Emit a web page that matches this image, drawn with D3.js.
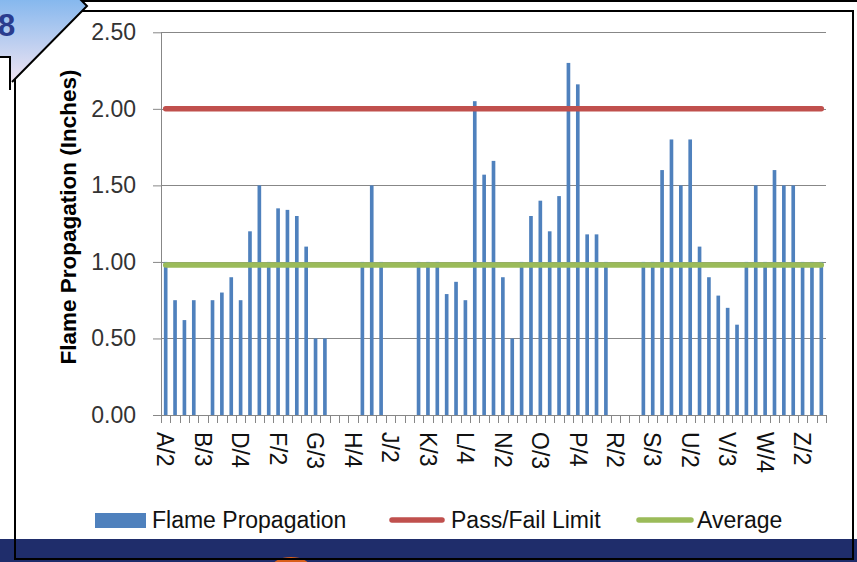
<!DOCTYPE html>
<html><head><meta charset="utf-8">
<script src="https://cdn.jsdelivr.net/npm/d3@7"></script>
<style>
html,body{margin:0;padding:0;background:#fff;}
svg{display:block;}
text{font-family:"Liberation Sans",Arial,sans-serif;}
</style></head><body>
<svg id="chart" width="857" height="562"></svg>
<script>
const categories = [
  "A/2","A/3","A/4","B/2","B/3","B/4","C/2","D/3","D/4","E/2","E/3","F/1",
  "F/2","F/3","F/4","G/2","G/3","G/4","H/2","H/3","H/4","I/2","I/3","J/1",
  "J/2","J/3","J/4","K/2","K/3","K/4","L/2","L/3","L/4","M/2","M/3","N/1",
  "N/2","N/3","N/4","O/2","O/3","O/4","P/2","P/3","P/4","Q/2","Q/3","R/1",
  "R/2","R/3","R/4","S/2","S/3","S/4","T/2","U/1","U/2","U/3","U/4","V/2",
  "V/3","V/4","W/2","W/3","W/4","X/2","Y/2","Z/1","Z/2","Z/3","Z/4"
];
const flameValues = [
  1.00,0.75,0.62,0.75,0,0.75,0.80,0.90,0.75,1.20,1.50,1.00,
  1.35,1.34,1.30,1.10,0.50,0.50,0,0,0,1.00,1.50,1.00,
  0,0,0,1.00,1.00,1.00,0.79,0.87,0.75,2.05,1.57,1.66,
  0.90,0.50,1.00,1.30,1.40,1.20,1.43,2.30,2.16,1.18,1.18,1.00,
  0,0,0,1.00,1.00,1.60,1.80,1.50,1.80,1.10,0.90,0.78,
  0.70,0.59,1.00,1.50,1.00,1.60,1.50,1.50,1.00,1.00,1.00
];
const passFailLimit = 2.00;
const averageValue = 0.98;
const yTickValues = [0, 0.5, 1.0, 1.5, 2.0, 2.5];
const xTickLabels = ["A/2","B/3","D/4","F/2","G/3","H/4","J/2","K/3","L/4",
  "N/2","O/3","P/4","R/2","S/3","U/2","V/3","W/4","Z/2"];
const seriesNames = ["Flame Propagation","Pass/Fail Limit","Average"];
const yAxisTitle = "Flame Propagation (Inches)";
const cornerText = "8";

const colors = {bar:"#4F81BD", limit:"#C0504D", avg:"#9BBB59", grid:"#878787", navy:"#1F2D6B"};
const plot = {left:161, right:826, top:32.3, bottom:415};

const svg = d3.select("#chart");

// background frame elements
svg.append("rect").attr("x",0).attr("y",539).attr("width",857).attr("height",23).attr("fill",colors.navy);
svg.append("ellipse").attr("cx",291).attr("cy",567).attr("rx",19).attr("ry",10).attr("fill","#D9601C");
svg.append("rect").attr("x",15).attr("y",11).attr("width",838).attr("height",548)
  .attr("fill","none").attr("stroke","#000").attr("stroke-width",2);

const defs = svg.append("defs");
const grad = defs.append("linearGradient").attr("id","cornerGrad").attr("x1",0).attr("y1",0).attr("x2",0).attr("y2",1);
grad.append("stop").attr("offset","0%").attr("stop-color","#86B8EE");
grad.append("stop").attr("offset","100%").attr("stop-color","#F0E4F2");
svg.append("path").attr("d","M0,0 L82,0 L87,6 L12,82 L10,80 L10,57 L0,57 Z").attr("fill","url(#cornerGrad)");
svg.append("path").attr("d","M857,1 L82,1 L87,6 L12,82").attr("fill","none").attr("stroke","#000").attr("stroke-width",2);
svg.append("path").attr("d","M0,57 L10,57 L10,90").attr("fill","none").attr("stroke","#000").attr("stroke-width",2);
svg.append("text").attr("x",-2).attr("y",36).attr("font-size",31).attr("font-weight","bold")
  .attr("fill","#2A3C8E").text(cornerText);

// scales
const x = d3.scaleBand().domain(categories).range([plot.left, plot.right])
  .paddingInner(0.61).paddingOuter(0.305);
const y = d3.scaleLinear().domain([0, 2.5]).range([plot.bottom, plot.top]);

// gridlines
svg.append("g").selectAll("line").data(yTickValues.filter(d => d > 0)).join("line")
  .attr("x1", plot.left).attr("x2", plot.right)
  .attr("y1", d => Math.round(y(d)) + 0.5).attr("y2", d => Math.round(y(d)) + 0.5)
  .attr("stroke", colors.grid).attr("stroke-width", 1);

// y axis
const yAxis = svg.append("g").attr("transform", `translate(${plot.left},0)`)
  .call(d3.axisLeft(y).tickValues(yTickValues).tickFormat(d3.format(".2f")).tickSize(8).tickSizeOuter(0).tickPadding(17));
yAxis.select(".domain").attr("stroke", colors.grid);
yAxis.selectAll(".tick line").attr("stroke", colors.grid);
yAxis.selectAll(".tick text").attr("font-size", 23).attr("fill", "#333")
  .style("font-family", '"Liberation Sans",Arial,sans-serif');

// bars
svg.append("g").selectAll("rect").data(categories).join("rect")
  .attr("x", (c) => x(c))
  .attr("width", x.bandwidth())
  .attr("y", (c, i) => y(flameValues[i]))
  .attr("height", (c, i) => y(0) - y(flameValues[i]))
  .attr("fill", colors.bar);

// x axis
svg.append("line").attr("x1", plot.left).attr("x2", plot.right)
  .attr("y1", plot.bottom + 0.5).attr("y2", plot.bottom + 0.5).attr("stroke", colors.grid);
const step = x.step();
const boundaries = categories.map(c => x(c) - step * x.paddingInner() / 2).concat([plot.right]);
svg.append("g").selectAll("line").data(boundaries).join("line")
  .attr("x1", d => Math.round(d) + 0.5).attr("x2", d => Math.round(d) + 0.5)
  .attr("y1", plot.bottom).attr("y2", plot.bottom + 8)
  .attr("stroke", colors.grid);
const xAxis = svg.append("g").attr("transform", `translate(0,${plot.bottom})`)
  .call(d3.axisBottom(x).tickValues(xTickLabels).tickSize(0).tickSizeOuter(0));
xAxis.select(".domain").remove();
xAxis.selectAll(".tick text")
  .attr("transform", "rotate(90)").attr("x", 17).attr("y", 0).attr("dy", "0.36em")
  .style("text-anchor", "start").attr("font-size", 23).attr("fill", "#111")
  .style("font-family", '"Liberation Sans",Arial,sans-serif');

// lines
const ends = [categories[0], categories[categories.length - 1]];
const lineGen = (v) => d3.line().x(c => x(c) + x.bandwidth() / 2).y(() => y(v))(ends);
svg.append("path").attr("d", lineGen(passFailLimit)).attr("fill", "none")
  .attr("stroke", colors.limit).attr("stroke-width", 5.5).attr("stroke-linecap", "round");
svg.append("path").attr("d", lineGen(averageValue)).attr("fill", "none")
  .attr("stroke", colors.avg).attr("stroke-width", 5.5).attr("stroke-linecap", "round");

// y axis title
svg.append("text").attr("transform", "translate(68,217) rotate(-90)")
  .attr("text-anchor", "middle").attr("dy", "0.35em")
  .attr("font-size", 22.5).attr("font-weight", "bold").attr("fill", "#000").text(yAxisTitle);

// legend
const leg = svg.append("g").attr("font-size", 23).attr("fill", "#111");
leg.append("rect").attr("x", 95).attr("y", 513).attr("width", 51).attr("height", 15).attr("fill", colors.bar);
leg.append("text").attr("x", 152).attr("y", 520).attr("dy", "0.35em").text(seriesNames[0]);
leg.append("line").attr("x1", 392).attr("x2", 442).attr("y1", 520).attr("y2", 520)
  .attr("stroke", colors.limit).attr("stroke-width", 5.5).attr("stroke-linecap", "round");
leg.append("text").attr("x", 451).attr("y", 520).attr("dy", "0.35em").text(seriesNames[1]);
leg.append("line").attr("x1", 639).attr("x2", 691).attr("y1", 520).attr("y2", 520)
  .attr("stroke", colors.avg).attr("stroke-width", 5.5).attr("stroke-linecap", "round");
leg.append("text").attr("x", 697).attr("y", 520).attr("dy", "0.35em").text(seriesNames[2]);
</script>
</body></html>
